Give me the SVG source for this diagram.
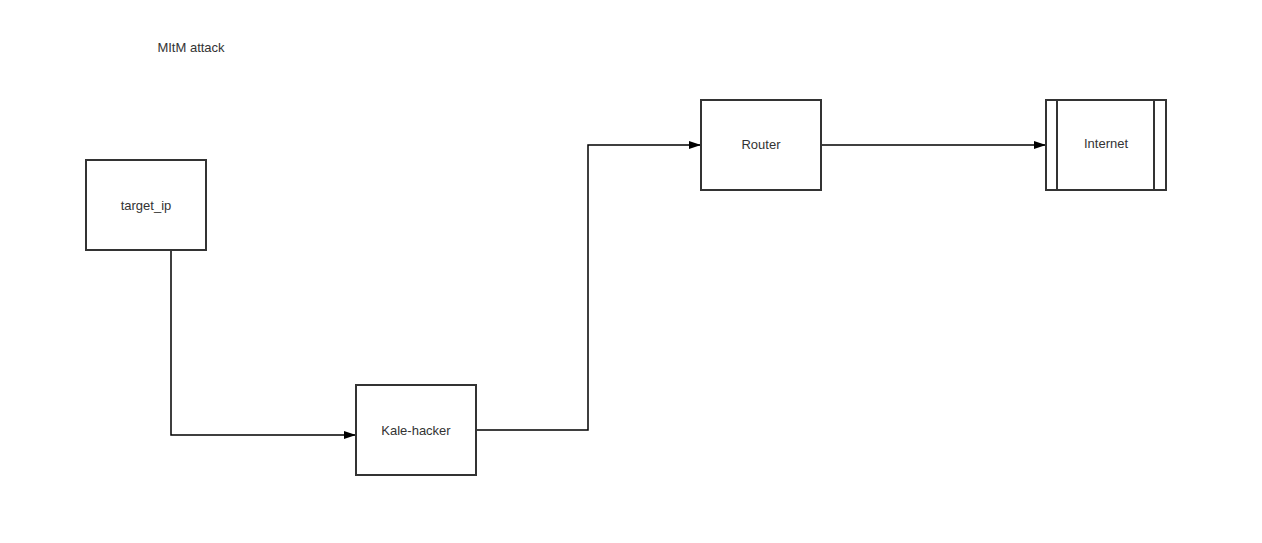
<svg xmlns="http://www.w3.org/2000/svg" width="1262" height="543" viewBox="0 0 1262 543">
<style>
.box{fill:#fff;stroke:#333;stroke-width:2}
.lbl{font-family:"Liberation Sans",Arial,sans-serif;font-size:13px;fill:#333;text-anchor:middle;dominant-baseline:central}
.edge{fill:none;stroke:#000;stroke-width:1.5}
</style>
<defs>
<marker id="arr" markerWidth="12" markerHeight="8" refX="11" refY="4" orient="auto" markerUnits="userSpaceOnUse">
<path d="M0,0 L12,4 L0,8 Z" fill="#000"/>
</marker>
</defs>
<rect width="1262" height="543" fill="#fff"/>
<text x="191" y="47" class="lbl">MItM attack</text>
<g id="connectors">
<path class="edge" d="M171,250 V435 H355" marker-end="url(#arr)"/>
<path class="edge" d="M476,430 H588 V145 H700" marker-end="url(#arr)"/>
<path class="edge" d="M821,145 H1045" marker-end="url(#arr)"/>
</g>
<g id="target_ip">
<rect class="box" x="86" y="160" width="120" height="90"/>
<text x="146" y="205" class="lbl">target_ip</text>
</g>
<g id="kale_hacker">
<rect class="box" x="356" y="385" width="120" height="90"/>
<text x="416" y="430" class="lbl">Kale-hacker</text>
</g>
<g id="router">
<rect class="box" x="701" y="100" width="120" height="90"/>
<text x="761" y="144" class="lbl">Router</text>
</g>
<g id="internet">
<rect class="box" x="1046" y="100" width="120" height="90"/>
<line x1="1057" y1="100" x2="1057" y2="190" stroke="#333" stroke-width="2"/>
<line x1="1154" y1="100" x2="1154" y2="190" stroke="#333" stroke-width="2"/>
<text x="1106" y="143" class="lbl">Internet</text>
</g>
</svg>
